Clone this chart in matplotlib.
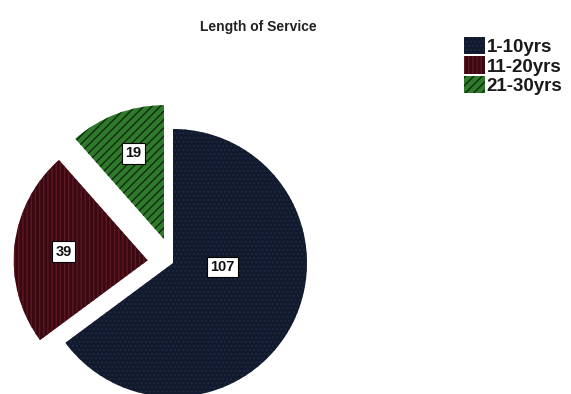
import matplotlib
matplotlib.use("Agg")
import matplotlib.pyplot as plt
from matplotlib.patches import Patch
import numpy as np

categories = ["1-10yrs", "11-20yrs", "21-30yrs"]
values = [107, 39, 19]
colors = ["#111a2d", "#3a0810", "#2f7a2a"]
hatch_colors = ["#1e2740", "#5c1822", "#0e2a0c"]
hatches = ["....", "||||", "////"]
explode = [0.0, 0.19, 0.19]
# label placement (distance from wedge apex in radii, angle offset from wedge mid-angle in degrees)
label_dist = [0.37, 0.63, 0.68]
label_rot = [22, 0, -1]

fig = plt.figure(figsize=(5.71, 3.94), dpi=100)
R = 134
cx, cy = 173, 394 - 263
lim = 1.4
W, H = 571, 394
ax = fig.add_axes([(cx - lim * R) / W, (cy - lim * R) / H, 2 * lim * R / W, 2 * lim * R / H])

wedges, texts = ax.pie(values, colors=colors, startangle=90, counterclock=False,
                       explode=explode, labels=[str(v) for v in values],
                       labeldistance=0.55,
                       wedgeprops=dict(linewidth=0))
ax.set_xlim(-lim, lim)
ax.set_ylim(-lim, lim)
ax.set_aspect("equal")
ax.axis("off")

for w, hc, h, t, d, r in zip(wedges, hatch_colors, hatches, texts, label_dist, label_rot):
    w.set_hatch(h)
    w.set_edgecolor(hc)
    w.set_linewidth(0)
    mid = np.deg2rad((w.theta1 + w.theta2) / 2 + r)
    c = w.center
    t.set_position((c[0] + d * np.cos(mid), c[1] + d * np.sin(mid)))
    t.set_fontsize(10.5)
    t.set_fontfamily("Liberation Sans")
    t.set_fontweight("bold")
    t.set_color("#111111")
    t.set_ha("center")
    t.set_va("center")
    t.set_bbox(dict(boxstyle="square,pad=0.22", facecolor="white", edgecolor="black", linewidth=0.8))

fig.text(258 / W, 1 - 27 / H, "Length of Service", ha="center", va="center",
         fontsize=10, fontweight="bold", family="Liberation Sans", color="#222222")

handles = [Patch(facecolor=c, edgecolor=hc, hatch=h, linewidth=0)
           for c, hc, h in zip(colors, hatch_colors, hatches)]
leg = fig.legend(handles, categories, loc="upper left", bbox_to_anchor=(464 / W, 1 - 37 / H),
                 frameon=False, handlelength=1.1, handleheight=1.05, handletextpad=0.1,
                 labelspacing=0.02, borderaxespad=0, borderpad=0,
                 prop=dict(size=13.5, weight="bold", family="Liberation Sans"))
for t in leg.get_texts():
    t.set_color("#1a1a1a")

fig.savefig("out.png", dpi=100)
